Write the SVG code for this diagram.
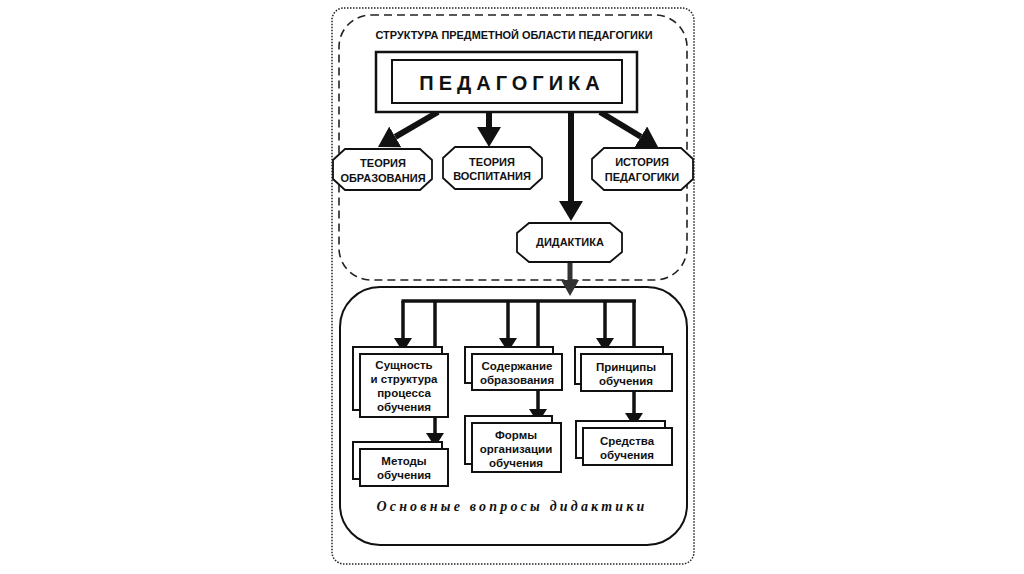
<svg xmlns="http://www.w3.org/2000/svg" width="1024" height="574" viewBox="0 0 1024 574">
<defs>
<style>
.t{font-family:"Liberation Sans",Arial,sans-serif;font-weight:bold;fill:#111;text-anchor:middle}
.cap{font-size:11px}
.sm{font-size:11.5px}
.box{fill:#fff;stroke:#111;stroke-width:2}
.oct{fill:#fff;stroke:#111;stroke-width:1.8}
.big{stroke:#111;stroke-width:6;fill:none}
.mid{stroke:#111;stroke-width:3.5;fill:none}
</style>
<marker id="ah" markerUnits="userSpaceOnUse" markerWidth="20" markerHeight="24" refX="0" refY="12" orient="auto" viewBox="0 0 20 24">
<path d="M0,0 L20,12 L0,24 z" fill="#111"/>
</marker>
<marker id="as" markerUnits="userSpaceOnUse" markerWidth="14" markerHeight="18" refX="0" refY="9" orient="auto" viewBox="0 0 14 18">
<path d="M0,0 L14,9 L0,18 z" fill="#111"/>
</marker>
<marker id="ag" markerUnits="userSpaceOnUse" markerWidth="16" markerHeight="18" refX="0" refY="9" orient="auto" viewBox="0 0 16 18">
<path d="M0,0 L16,9 L0,18 z" fill="#333"/>
</marker>
</defs>
<rect width="1024" height="574" fill="#fff"/>

<g id="frames">
<rect x="332" y="8" width="362" height="556" rx="12" fill="none" stroke="#222" stroke-width="1.5" stroke-dasharray="1.5 1.5"/>
<rect x="339" y="15" width="348" height="265" rx="32" fill="none" stroke="#222" stroke-width="1.6" stroke-dasharray="8 5"/>
<rect x="340" y="287" width="347" height="258" rx="40" fill="none" stroke="#111" stroke-width="2"/>
</g>

<g id="title">
<text class="t" x="514" y="39" font-size="11" textLength="277" lengthAdjust="spacingAndGlyphs">СТРУКТУРА ПРЕДМЕТНОЙ ОБЛАСТИ ПЕДАГОГИКИ</text>
</g>

<g id="connectors">
<line class="big" x1="438" y1="112" x2="395.3" y2="136.9" marker-end="url(#ah)"/>
<line class="big" x1="489" y1="112" x2="489" y2="127" marker-end="url(#ah)"/>
<line class="big" x1="571" y1="112" x2="571" y2="201" marker-end="url(#ah)"/>
<line class="big" x1="600" y1="112" x2="640.9" y2="136.7" marker-end="url(#ah)"/>
<line x1="570" y1="262" x2="570" y2="280" stroke="#333" stroke-width="5" marker-end="url(#ag)"/>
<line class="mid" x1="401.5" y1="301" x2="636" y2="301"/>
<line class="mid" x1="403" y1="301" x2="403" y2="338" marker-end="url(#as)"/>
<line class="mid" x1="435" y1="301" x2="435" y2="347"/>
<line class="mid" x1="508" y1="301" x2="508" y2="338" marker-end="url(#as)"/>
<line class="mid" x1="538" y1="301" x2="538" y2="347"/>
<line class="mid" x1="605" y1="301" x2="605" y2="338" marker-end="url(#as)"/>
<line class="mid" x1="634" y1="301" x2="634" y2="347"/>
<line class="mid" x1="435" y1="417" x2="435" y2="433" marker-end="url(#as)"/>
<line class="mid" x1="538" y1="390" x2="538" y2="409" marker-end="url(#as)"/>
<line class="mid" x1="634" y1="391" x2="634" y2="413" marker-end="url(#as)"/>
</g>

<g id="pedagogika">
<rect x="376" y="52" width="261" height="60" fill="#fff" stroke="#111" stroke-width="2.5"/>
<rect x="392" y="60" width="230" height="43" fill="#fff" stroke="#111" stroke-width="2"/>
<text class="t" x="512" y="90" font-size="20" letter-spacing="5">ПЕДАГОГИКА</text>
</g>

<g id="teoriya-obrazovaniya">
<polygon class="oct" points="345,149 420,149 432,160 432,179 420,190 345,190 333,179 333,160"/>
<text class="t cap" x="383" y="167">ТЕОРИЯ</text>
<text class="t cap" x="383" y="182">ОБРАЗОВАНИЯ</text>
</g>

<g id="teoriya-vospitaniya">
<polygon class="oct" points="455,147 530,147 542,158 542,178 530,189 455,189 443,178 443,158"/>
<text class="t cap" x="492" y="166">ТЕОРИЯ</text>
<text class="t cap" x="492" y="180">ВОСПИТАНИЯ</text>
</g>

<g id="istoriya-pedagogiki">
<polygon class="oct" points="604,148 681,148 693,159 693,179 681,190 604,190 592,179 592,159"/>
<text class="t cap" x="642" y="166">ИСТОРИЯ</text>
<text class="t cap" x="642" y="181">ПЕДАГОГИКИ</text>
</g>

<g id="didaktika">
<polygon class="oct" points="529,223 610,223 622,233 622,252 610,262 529,262 517,252 517,233"/>
<text class="t cap" x="570" y="246">ДИДАКТИКА</text>
</g>

<g id="sushchnost">
<rect class="box" x="353" y="347" width="89" height="63"/>
<rect class="box" x="360" y="354" width="88" height="63"/>
<text class="t sm" x="404" y="369">Сущность</text>
<text class="t sm" x="404" y="383">и структура</text>
<text class="t sm" x="404" y="397">процесса</text>
<text class="t sm" x="404" y="411">обучения</text>
</g>

<g id="soderzhanie">
<rect class="box" x="465" y="347" width="88" height="36"/>
<rect class="box" x="472" y="354" width="90" height="36"/>
<text class="t sm" x="517" y="370">Содержание</text>
<text class="t sm" x="517" y="384">образования</text>
</g>

<g id="printsipy">
<rect class="box" x="575" y="347" width="88" height="37"/>
<rect class="box" x="581" y="354" width="91" height="37"/>
<text class="t sm" x="626" y="371">Принципы</text>
<text class="t sm" x="626" y="385">обучения</text>
</g>

<g id="metody">
<rect class="box" x="353" y="442" width="89" height="37"/>
<rect class="box" x="360" y="449" width="88" height="37"/>
<text class="t sm" x="404" y="465">Методы</text>
<text class="t sm" x="404" y="479">обучения</text>
</g>

<g id="formy">
<rect class="box" x="465" y="416" width="87" height="48"/>
<rect class="box" x="472" y="423" width="89" height="49"/>
<text class="t sm" x="516" y="439">Формы</text>
<text class="t sm" x="516" y="453">организации</text>
<text class="t sm" x="516" y="467">обучения</text>
</g>

<g id="sredstva">
<rect class="box" x="576" y="421" width="89" height="37"/>
<rect class="box" x="583" y="428" width="89" height="37"/>
<text class="t sm" x="627" y="445">Средства</text>
<text class="t sm" x="627" y="459">обучения</text>
</g>

<g id="caption">
<text x="512" y="511" font-family="'Liberation Serif','Times New Roman',serif" font-style="italic" font-weight="bold" font-size="14" letter-spacing="3.2" text-anchor="middle" fill="#111">Основные вопросы дидактики</text>
</g>
</svg>
